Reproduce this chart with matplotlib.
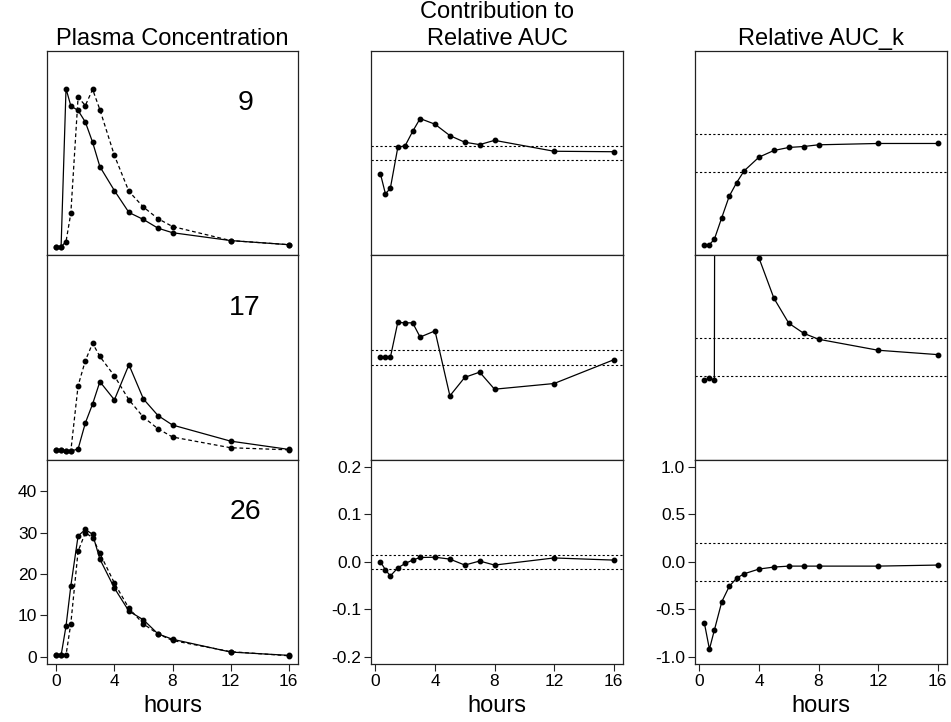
import matplotlib
matplotlib.use("Agg")
import matplotlib.pyplot as plt
import numpy as np

plt.rcParams['font.family'] = ['Liberation Sans', 'DejaVu Sans']

# ---- data ----
times = [0, 0.33, 0.67, 1, 1.5, 2, 2.5, 3, 4, 5, 6, 7, 8, 12, 16]
times_rel = times[1:]
subjects = ["9", "17", "26"]

conc_test = [
    [0.3, 0.3, 38.6, 34.4, 33.3, 30.5, 25.6, 19.7, 13.9, 8.6, 6.9, 4.8, 3.7, 1.8, 0.8],
    [0.5, 0.5, 0.25, 0.3, 0.8, 7.1, 11.7, 17.1, 12.7, 21.2, 12.9, 8.9, 6.6, 2.7, 0.7],
    [0.3, 0.3, 7.4, 17.1, 29.2, 30.8, 29.6, 23.6, 16.6, 11.0, 8.9, 5.5, 4.2, 1.1, 0.3],
]
conc_ref = [
    [0.3, 0.3, 1.55, 8.4, 36.5, 34.5, 38.4, 33.5, 22.4, 13.7, 9.9, 7.1, 5.2, 1.8, 0.8],
    [0.5, 0.5, 0.25, 0.3, 16.1, 22.2, 26.4, 23.2, 18.5, 12.7, 8.5, 5.7, 3.7, 1.1, 0.6],
    [0.3, 0.3, 0.4, 8.0, 25.5, 30.0, 28.8, 25.0, 17.8, 11.7, 7.9, 5.5, 3.9, 1.2, 0.2],
]
contrib = [
    [-0.043, -0.086, -0.074, 0.012, 0.016, 0.046, 0.073, 0.061, 0.037, 0.023, 0.018, 0.027, 0.004, 0.003],
    [0.0, 0.0, 0.0, 0.074, 0.073, 0.073, 0.043, 0.056, -0.081, -0.042, -0.031, -0.067, -0.055, -0.005],
    [0.0, -0.017, -0.030, -0.013, -0.0035, 0.0035, 0.009, 0.0095, 0.0056, -0.007, 0.0015, -0.007, 0.008, 0.0035],
]
rel_auc_k = [
    [-0.964, -0.964, -0.908, -0.679, -0.454, -0.310, -0.187, -0.042, 0.028, 0.060, 0.070, 0.088, 0.102, 0.102],
    [-0.241, -0.216, -0.241, 40.0, 20.0, 8.0, 3.5, 1.048, 0.625, 0.361, 0.255, 0.192, 0.076, 0.030],
    [-0.647, -0.922, -0.721, -0.422, -0.260, -0.173, -0.127, -0.077, -0.056, -0.046, -0.046, -0.046, -0.046, -0.035],
]
contrib_band = 0.015
relk_band = 0.2

col_titles = [["Plasma Concentration"], ["Contribution to", "Relative AUC"], ["Relative AUC_k"]]
conc_ticks = [0, 10, 20, 30, 40]
contrib_ticks = [-0.2, -0.1, 0.0, 0.1, 0.2]
relk_ticks = [-1.0, -0.5, 0.0, 0.5, 1.0]
x_ticks = [0, 4, 8, 12, 16]

# ---- layout ----
W, H = 951, 722
fig = plt.figure(figsize=(W / 100, H / 100), dpi=100)

col_left = [47, 371, 695]
col_w = [251, 252, 252]
row_top = [51, 255.3, 459.6]
row_h = 204.3

lw = 0.9
ms = 3.2
dash_conc = (0, (3, 2.2))
dot_band = (0, (2, 2))

def make_ax(r, c):
    l = col_left[c] / W
    b = (H - row_top[r] - row_h) / H
    ax = fig.add_axes([l, b, col_w[c] / W, row_h / H])
    for s in ax.spines.values():
        s.set_linewidth(0.9)
        s.set_color('#222222')
    ax.tick_params(direction='out', length=5, width=0.8, labelsize=12.5,
                   color='#222222', pad=2)
    return ax

for r in range(3):
    # column 1: concentration
    ax = make_ax(r, 0)
    ax.plot(times, conc_test[r], '-', color='black', lw=lw, marker='o', ms=ms)
    ax.plot(times, conc_ref[r], linestyle=dash_conc, color='black', lw=lw, marker='o', ms=ms)
    ax.set_xlim(-0.64, 16.64)
    ax.set_ylim(-1.77, 47.7)
    ax.text(13.0, 35.0, subjects[r], fontsize=20.5, ha='center', va='center')
    # column 2: contribution
    ax2 = make_ax(r, 1)
    ax2.plot(times_rel, contrib[r], '-', color='black', lw=lw, marker='o', ms=ms)
    ax2.axhline(contrib_band, color='black', lw=0.8, linestyle=dot_band)
    ax2.axhline(-contrib_band, color='black', lw=0.8, linestyle=dot_band)
    ax2.set_xlim(-0.3, 16.63)
    ax2.set_ylim(-0.2155, 0.2155)
    # column 3: relative AUC_k
    ax3 = make_ax(r, 2)
    ax3.plot(times_rel, rel_auc_k[r], '-', color='black', lw=lw, marker='o', ms=ms)
    ax3.axhline(relk_band, color='black', lw=0.8, linestyle=dot_band)
    ax3.axhline(-relk_band, color='black', lw=0.8, linestyle=dot_band)
    ax3.set_xlim(-0.3, 16.63)
    ax3.set_ylim(-1.077, 1.077)

    for a, yt, fmt in [(ax, conc_ticks, "{:d}"), (ax2, contrib_ticks, "{:.1f}"), (ax3, relk_ticks, "{:.1f}")]:
        if r == 2:
            a.set_xticks(x_ticks)
            a.set_xticklabels([str(t) for t in x_ticks])
            a.set_yticks(yt)
            a.set_yticklabels([fmt.format(v) for v in yt])
        else:
            a.set_xticks([])
            a.set_yticks([])

# titles
for c in range(3):
    cx = (col_left[c] + col_w[c] / 2) / W
    lines = col_titles[c]
    base = 45
    for i, line in enumerate(reversed(lines)):
        fig.text(cx, (H - (base - 26.7 * i)) / H, line, fontsize=17,
                 ha='center', va='baseline')
    fig.text(cx, (H - 712) / H, "hours", fontsize=17, ha='center', va='baseline')

fig.savefig("out.png", dpi=100)
